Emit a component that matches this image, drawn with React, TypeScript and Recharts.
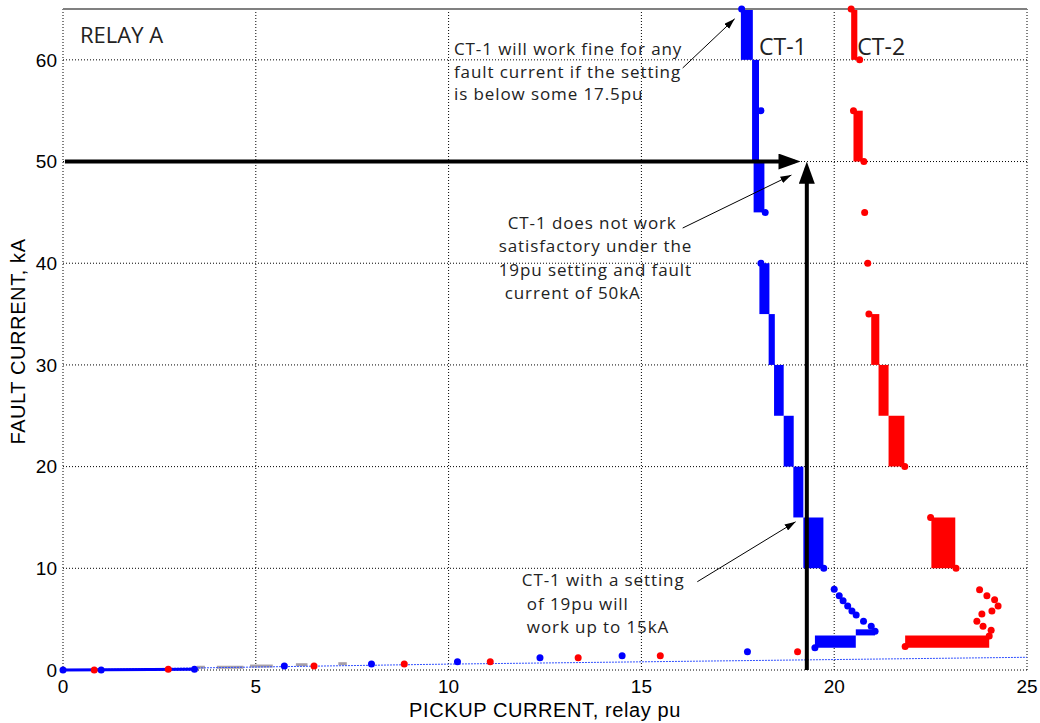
import {
  ComposedChart,
  XAxis,
  YAxis,
  CartesianGrid,
  Scatter,
  Line,
  ReferenceArea,
  ReferenceLine,
} from "recharts";

const xTicks = [0, 5, 10, 15, 20, 25];
const yTicks = [0, 10, 20, 30, 40, 50, 60];

// thick step segments of each CT curve: [pickup from, pickup to, kA from, kA to]
const ct1Blocks = [
  [17.58, 17.89, 60, 65],
  [17.87, 18.05, 50, 60],
  [17.91, 18.19, 45, 50],
  [18.06, 18.32, 35, 40],
  [18.3, 18.46, 30, 35],
  [18.44, 18.69, 25, 30],
  [18.69, 18.95, 20, 25],
  [18.94, 19.2, 15, 20],
  [19.2, 19.72, 10, 15],
  [19.5, 20.56, 2.2, 3.4],
  [20.56, 21.06, 3.4, 4.0],
];

const ct2Blocks = [
  [20.44, 20.6, 60, 65],
  [20.5, 20.74, 50, 55],
  [20.96, 21.17, 30, 35],
  [21.15, 21.41, 25, 30],
  [21.41, 21.82, 20, 25],
  [22.52, 23.14, 10, 15],
  [21.84, 24.02, 2.2, 3.4],
];

const ct1Dots = [
  { x: 0, y: 0 }, { x: 0.99, y: 0 }, { x: 3.41, y: 0.07 }, { x: 5.74, y: 0.4 },
  { x: 8.0, y: 0.6 }, { x: 10.23, y: 0.8 }, { x: 12.37, y: 1.2 }, { x: 14.5, y: 1.4 },
  { x: 17.75, y: 1.8 },
  { x: 17.6, y: 65 }, { x: 18.1, y: 55 }, { x: 18.21, y: 45 }, { x: 18.1, y: 40 },
  { x: 19.73, y: 10 },
  { x: 20.0, y: 7.95 }, { x: 20.13, y: 7.3 }, { x: 20.23, y: 6.8 }, { x: 20.35, y: 6.3 },
  { x: 20.46, y: 5.8 }, { x: 20.57, y: 5.4 }, { x: 20.76, y: 4.8 }, { x: 20.96, y: 4.3 },
  { x: 21.06, y: 3.8 }, { x: 19.5, y: 2.2 },
];

const ct2Dots = [
  { x: 0.81, y: 0 }, { x: 2.73, y: 0.07 }, { x: 6.51, y: 0.4 }, { x: 8.85, y: 0.6 },
  { x: 11.08, y: 0.8 }, { x: 13.36, y: 1.2 }, { x: 15.49, y: 1.4 }, { x: 19.05, y: 1.8 },
  { x: 20.44, y: 65 }, { x: 20.66, y: 60 }, { x: 20.5, y: 55 }, { x: 20.77, y: 50 },
  { x: 20.79, y: 45 }, { x: 20.87, y: 40 }, { x: 20.9, y: 35 }, { x: 21.83, y: 20 },
  { x: 22.5, y: 15 }, { x: 23.16, y: 10 }, { x: 21.84, y: 2.3 },
  { x: 23.77, y: 7.9 }, { x: 23.96, y: 7.3 }, { x: 24.16, y: 6.9 }, { x: 24.25, y: 6.3 },
  { x: 24.09, y: 5.8 }, { x: 23.83, y: 5.5 }, { x: 23.7, y: 4.8 }, { x: 23.86, y: 4.3 },
  { x: 24.07, y: 3.9 }, { x: 24.02, y: 3.35 },
];

const ct1Trend = [
  { x: 0, y: 0 },
  { x: 10, y: 0.58 },
  { x: 25, y: 1.25 },
];

const ct1Base = [
  { x: 0, y: 0 },
  { x: 3.41, y: 0.07 },
];

// faint grey marks near the axis: [from, to, kA]
const greyDashes = [
  [3.47, 3.68, 0.27],
  [3.99, 4.68, 0.27],
  [4.85, 5.44, 0.39],
  [6.04, 6.34, 0.52],
  [7.14, 7.36, 0.62],
];

const arrow50kA = [
  { x: 0.05, y: 50 },
  { x: 18.97, y: 50 },
];
const arrow19pu = [
  { x: 19.29, y: 0 },
  { x: 19.29, y: 49.4 },
];

const noteArrowFine = [
  { x: 16.07, y: 59.2 },
  { x: 17.42, y: 64.04 },
];
const noteArrowFail = [
  { x: 16.07, y: 43.46 },
  { x: 18.89, y: 48.67 },
];
const noteArrowUpTo = [
  { x: 16.45, y: 8.68 },
  { x: 19.0, y: 14.58 },
];

const noteFineLines = [
  "CT-1 will work fine for any",
  "fault current if the setting",
  "is below some 17.5pu",
];
const noteFailLines = [
  "CT-1 does not work",
  "satisfactory under the",
  "19pu setting and fault",
  "current of 50kA",
];
const noteUpToLines = ["CT-1 with a setting", "of 19pu will", "work up to 15kA"];

const noteFont = "'Open Sans', 'DejaVu Sans', sans-serif";
const axisFont = "'Liberation Sans', Arial, sans-serif";

const dot = (color: string) => (p: any) =>
  <circle cx={p.cx} cy={p.cy} r={3.5} fill={color} />;

// multi-line note anchored at a data point; indent shifts single lines
const textBlock = (lines: string[], size: number, lead: number, indent: number[] = []) => (p: any) =>
  (
    <text x={p.cx} y={p.cy} fontFamily={noteFont} fontSize={size} letterSpacing={size > 20 ? 0 : 0.9} fill="#222">
      {lines.map((t, i) => (
        <tspan key={i} x={p.cx + (indent[i] || 0)} dy={i === 0 ? 0 : lead}>
          {t}
        </tspan>
      ))}
    </text>
  );

export default function App() {
  return (
    <div style={{ position: "absolute", left: 0, top: 0, width: 1040, height: 723, background: "#fff" }}>
      <ComposedChart width={1040} height={723} margin={{ top: 9, right: 13, bottom: 0, left: 0 }}>
        <defs>
          <marker id="bigHead" viewBox="0 0 22 16" refX="16" refY="8" markerWidth="22" markerHeight="16" markerUnits="userSpaceOnUse" orient="auto">
            <path d="M0,0 L22,8 L0,16 z" fill="#000" />
          </marker>
          <marker id="thinHead" viewBox="0 0 11 7" refX="11" refY="3.5" markerWidth="11" markerHeight="7" markerUnits="userSpaceOnUse" orient="auto">
            <path d="M0,0 L11,3.5 L0,7 z" fill="#000" />
          </marker>
        </defs>
        <CartesianGrid stroke="#000" strokeDasharray="1 2" />
        <XAxis
          type="number"
          dataKey="x"
          domain={[0, 25]}
          ticks={xTicks}
          axisLine={false}
          tickLine={false}
          tickSize={0}
          tickMargin={10}
          height={53}
          tick={{ fontSize: 19, fill: "#000", fontFamily: axisFont }}
          label={{
            content: (props: any) => (
              <text
                x={props.viewBox.x + props.viewBox.width / 2}
                y={props.viewBox.y + 47}
                textAnchor="middle"
                fontFamily={axisFont}
                fontSize={20}
                letterSpacing={0.6}
                fill="#000"
              >
                PICKUP CURRENT, relay pu
              </text>
            ),
          }}
        />
        <YAxis
          type="number"
          dataKey="y"
          domain={[0, 65]}
          ticks={yTicks}
          axisLine={false}
          tickLine={false}
          tickSize={0}
          tickMargin={6}
          width={63}
          tick={{ fontSize: 19, fill: "#000", fontFamily: axisFont }}
          label={{
            content: (props: any) => {
              const cx = props.viewBox.x + 25;
              const cy = props.viewBox.y + props.viewBox.height / 2 + 2;
              return (
                <text
                  x={cx}
                  y={cy}
                  transform={`rotate(-90, ${cx}, ${cy})`}
                  textAnchor="middle"
                  fontFamily={axisFont}
                  fontSize={20}
                  letterSpacing={0.6}
                  fill="#000"
                >
                  FAULT CURRENT, kA
                </text>
              );
            },
          }}
        />
        <ReferenceLine y={65} stroke="#808080" strokeWidth={2} />

        {greyDashes.map(([a, b, v], i) => (
          <ReferenceLine key={`g${i}`} segment={[{ x: a, y: v }, { x: b, y: v }]} stroke="#a8a0a8" strokeWidth={3} />
        ))}

        <Line data={ct1Trend} dataKey="y" stroke="#3050ff" strokeWidth={1} strokeDasharray="2 1" dot={false} isAnimationActive={false} />
        <Line data={ct1Base} dataKey="y" stroke="#0000ff" strokeWidth={3} dot={false} isAnimationActive={false} />

        {ct1Blocks.map(([a, b, lo, hi], i) => (
          <ReferenceArea key={`b${i}`} x1={a} x2={b} y1={lo} y2={hi} fill="#0000ff" fillOpacity={1} stroke="none" />
        ))}
        {ct2Blocks.map(([a, b, lo, hi], i) => (
          <ReferenceArea key={`r${i}`} x1={a} x2={b} y1={lo} y2={hi} fill="#ff0000" fillOpacity={1} stroke="none" />
        ))}

        <Scatter data={ct1Dots} shape={dot("#0000ff")} isAnimationActive={false} />
        <Scatter data={ct2Dots} shape={dot("#ff0000")} isAnimationActive={false} />

        <Line data={arrow50kA} dataKey="y" stroke="#000" strokeWidth={4} dot={false} markerEnd="url(#bigHead)" isAnimationActive={false} />
        <Line data={arrow19pu} dataKey="y" stroke="#000" strokeWidth={4} dot={false} markerEnd="url(#bigHead)" isAnimationActive={false} />
        <Line data={noteArrowFine} dataKey="y" stroke="#000" strokeWidth={1} dot={false} markerEnd="url(#thinHead)" isAnimationActive={false} />
        <Line data={noteArrowFail} dataKey="y" stroke="#000" strokeWidth={1} dot={false} markerEnd="url(#thinHead)" isAnimationActive={false} />
        <Line data={noteArrowUpTo} dataKey="y" stroke="#000" strokeWidth={1} dot={false} markerEnd="url(#thinHead)" isAnimationActive={false} />

        <Scatter data={[{ x: 10.14, y: 60.47 }]} shape={textBlock(noteFineLines, 17, 22.5)} isAnimationActive={false} />
        <Scatter data={[{ x: 11.3, y: 43.4 }]} shape={textBlock(noteFailLines, 17, 23.5, [9, 0, 0, 6])} isAnimationActive={false} />
        <Scatter data={[{ x: 11.9, y: 8.26 }]} shape={textBlock(noteUpToLines, 17, 23.5, [0, 5, 5])} isAnimationActive={false} />
        <Scatter data={[{ x: 0.44, y: 61.7 }]} shape={textBlock(["RELAY A"], 22, 0)} isAnimationActive={false} />
        <Scatter data={[{ x: 18.05, y: 60.5 }]} shape={textBlock(["CT-1"], 23, 0)} isAnimationActive={false} />
        <Scatter data={[{ x: 20.6, y: 60.5 }]} shape={textBlock(["CT-2"], 23, 0)} isAnimationActive={false} />
      </ComposedChart>
    </div>
  );
}
